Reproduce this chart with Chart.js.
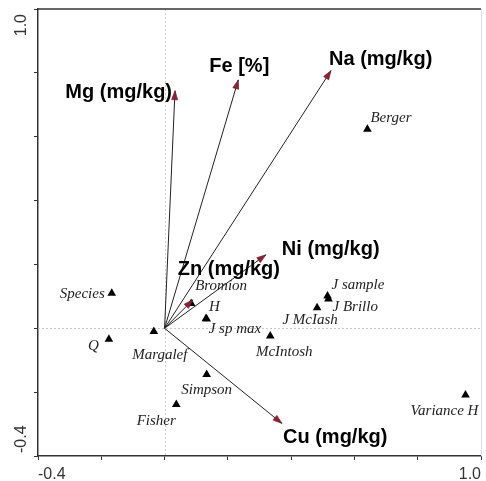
<!DOCTYPE html>
<html>
<head>
<meta charset="utf-8">
<script src="https://cdn.jsdelivr.net/npm/chart.js@4/dist/chart.umd.min.js"></script>
<style>
  html, body { margin: 0; padding: 0; background: #fff; }
  #wrap { width: 486px; height: 481px; }
</style>
</head>
<body>
<div id="wrap"><canvas id="chart"></canvas></div>
<script>
// site scores (triangles)
const sites = ['Berger', 'Species', 'Q', 'Margalef', 'Bromion', 'H', 'J sp max', 'Simpson',
  'Fisher', 'McIntosh', 'J McIash', 'J sample', 'J Brillo', 'Variance H'];
const siteX = [0.641, -0.167, -0.176, -0.034, 0.084, 0.131, 0.133, 0.133, 0.037, 0.334, 0.482, 0.515, 0.518, 0.951];
const siteY = [0.623, 0.110, -0.034, -0.010, 0.078, 0.031, 0.029, -0.145, -0.239, -0.024, 0.064, 0.101, 0.092, -0.209];

// environmental vectors (arrows from origin)
const variables = ['Mg (mg/kg)', 'Fe [%]', 'Na (mg/kg)', 'Ni (mg/kg)', 'Zn (mg/kg)', 'Cu (mg/kg)'];
const varX = [0.033, 0.233, 0.526, 0.320, 0.089, 0.371];
const varY = [0.744, 0.778, 0.807, 0.230, 0.089, -0.298];

const axisMin = -0.4;
const axisMax = 1.0;
const tickLabels = ['-0.4', '1.0'];

// label placement (pixel offsets from the mark, text align)
const siteLabelPos = {
  'Berger': [3, -11, 'left'],
  'Species': [-7, 1, 'right'],
  'Q': [-10, 7, 'right'],
  'Margalef': [6, 24, 'center'],
  'Bromion': [4, -17, 'left'],
  'H': [3, -11, 'left'],
  'J sp max': [2, 10, 'left'],
  'Simpson': [0, 15, 'center'],
  'Fisher': [-20, 16, 'center'],
  'McIntosh': [14, 16, 'center'],
  'J McIash': [-7, 12, 'center'],
  'J sample': [4, -11, 'left'],
  'J Brillo': [4, 8, 'left'],
  'Variance H': [-21, 16, 'center']
};
const varLabelPos = {
  'Mg (mg/kg)': [-3, 2, 'right'],
  'Fe [%]': [1, -13, 'center'],
  'Na (mg/kg)': [-2, -11, 'left'],
  'Ni (mg/kg)': [16, -5, 'left'],
  'Zn (mg/kg)': [-15, -30, 'left'],
  'Cu (mg/kg)': [1, 14, 'left']
};

const fmt = v => {
  const s = v.toFixed(1);
  return tickLabels.includes(s) ? s : '';
};

const datasets = [];
datasets.push({
  label: 'sites',
  type: 'scatter',
  data: sites.map((s, i) => ({ x: siteX[i], y: siteY[i] })),
  pointStyle: 'triangle',
  pointRadius: 5,
  backgroundColor: '#000',
  borderColor: '#000',
  borderWidth: 0,
  order: 2
});
variables.forEach((v, i) => {
  datasets.push({
    label: v,
    type: 'line',
    isVector: true,
    data: [{ x: 0, y: 0 }, { x: varX[i], y: varY[i] }],
    borderColor: '#222',
    borderWidth: 1,
    pointRadius: 0,
    fill: false,
    order: 1
  });
});

const decorPlugin = {
  id: 'decor',
  beforeDatasetsDraw(chart) {
    const { ctx, chartArea: a, scales: { x, y } } = chart;
    const x0 = x.getPixelForValue(0);
    const y0 = y.getPixelForValue(0);
    ctx.save();
    ctx.strokeStyle = '#c8c8c8';
    ctx.lineWidth = 1;
    ctx.setLineDash([2, 2]);
    ctx.beginPath();
    ctx.moveTo(Math.round(x0) + 0.5, a.top);
    ctx.lineTo(Math.round(x0) + 0.5, a.bottom);
    ctx.moveTo(a.left, Math.round(y0) + 0.5);
    ctx.lineTo(a.right, Math.round(y0) + 0.5);
    ctx.stroke();
    ctx.setLineDash([]);
    // frame: dark top, faint right
    ctx.strokeStyle = '#333';
    ctx.lineWidth = 1.5;
    ctx.beginPath();
    ctx.moveTo(a.left, a.top);
    ctx.lineTo(a.right, a.top);
    ctx.stroke();
    ctx.strokeStyle = '#ddd';
    ctx.lineWidth = 1;
    ctx.beginPath();
    ctx.moveTo(a.right + 0.5, a.top);
    ctx.lineTo(a.right + 0.5, a.bottom);
    ctx.stroke();
    ctx.restore();
  },
  afterDatasetsDraw(chart) {
    const { ctx, scales: { y } } = chart;
    ctx.save();
    // arrowheads
    chart.data.datasets.forEach((ds, di) => {
      if (!ds.isVector) return;
      const pts = chart.getDatasetMeta(di).data;
      const p0 = pts[0], p1 = pts[1];
      const ang = Math.atan2(p1.y - p0.y, p1.x - p0.x);
      const len = 9, half = 3;
      ctx.beginPath();
      ctx.moveTo(p1.x, p1.y);
      ctx.lineTo(p1.x - len * Math.cos(ang) + half * Math.sin(ang), p1.y - len * Math.sin(ang) - half * Math.cos(ang));
      ctx.lineTo(p1.x - len * Math.cos(ang) - half * Math.sin(ang), p1.y - len * Math.sin(ang) + half * Math.cos(ang));
      ctx.closePath();
      ctx.fillStyle = '#b5102a';
      ctx.fill();
      ctx.strokeStyle = '#333';
      ctx.lineWidth = 0.7;
      ctx.stroke();

      const lp = varLabelPos[ds.label];
      ctx.font = 'bold 20px "Liberation Sans", Arial, sans-serif';
      ctx.fillStyle = '#000';
      ctx.textAlign = lp[2];
      ctx.textBaseline = 'middle';
      ctx.fillText(ds.label, p1.x + lp[0], p1.y + lp[1]);
    });
    // site labels
    const meta = chart.getDatasetMeta(0);
    ctx.font = 'italic 15px "Liberation Serif", "Times New Roman", serif';
    ctx.fillStyle = '#222';
    ctx.textBaseline = 'middle';
    sites.forEach((s, i) => {
      const p = meta.data[i];
      const lp = siteLabelPos[s];
      ctx.textAlign = lp[2];
      ctx.fillText(s, p.x + lp[0], p.y + lp[1]);
    });
    // rotated y tick labels
    ctx.font = '16px "Liberation Sans", Arial, sans-serif';
    ctx.fillStyle = '#333';
    ctx.textBaseline = 'middle';
    y.ticks.forEach(t => {
      const lab = fmt(t.value);
      if (!lab) return;
      const py = y.getPixelForValue(t.value);
      ctx.save();
      ctx.translate(22, py);
      ctx.rotate(-Math.PI / 2);
      ctx.textAlign = t.value === axisMax ? 'right' : 'left';
      ctx.fillText(lab, t.value === axisMax ? -5 : 3, 0);
      ctx.restore();
    });
    ctx.restore();
  }
};

new Chart(document.getElementById('chart'), {
  data: { datasets: datasets },
  options: {
    responsive: true,
    maintainAspectRatio: false,
    animation: false,
    layout: { padding: { top: 9, right: 3, left: 0, bottom: 0 } },
    plugins: { legend: { display: false }, tooltip: { enabled: false } },
    scales: {
      x: {
        type: 'linear',
        min: axisMin,
        max: axisMax,
        afterFit: s => { s.height = 25; },
        border: { display: true, color: '#333', width: 1.5 },
        grid: { drawOnChartArea: false, drawTicks: true, tickLength: 4, color: '#333' },
        ticks: {
          stepSize: 0.2,
          align: 'inner',
          padding: 5,
          color: '#333',
          font: { family: '"Liberation Sans", Arial, sans-serif', size: 16 },
          maxRotation: 0,
          autoSkip: false,
          callback: v => fmt(v)
        }
      },
      y: {
        type: 'linear',
        min: axisMin,
        max: axisMax,
        afterFit: s => { s.width = 38; },
        border: { display: true, color: '#333', width: 1.5 },
        grid: { drawOnChartArea: false, drawTicks: true, tickLength: 4, color: '#333' },
        ticks: { stepSize: 0.2, display: false }
      }
    }
  },
  plugins: [decorPlugin]
});
</script>
</body>
</html>
